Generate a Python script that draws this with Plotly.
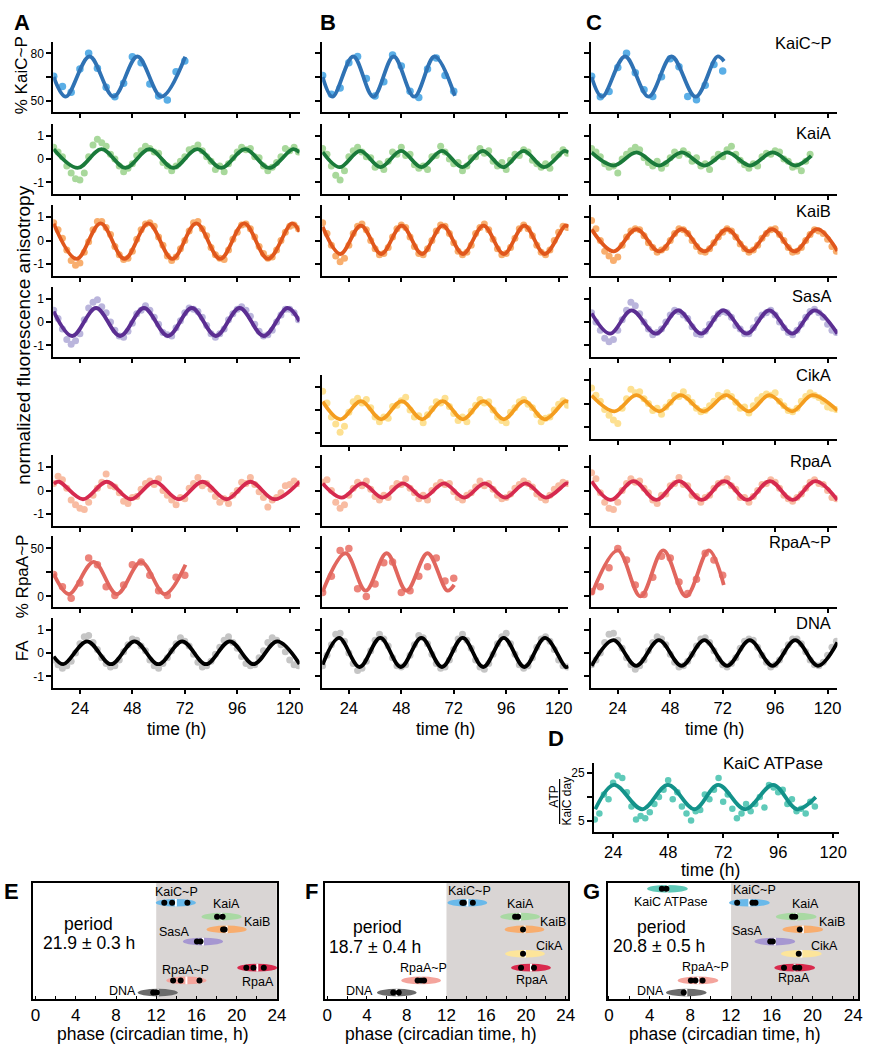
import plotly.graph_objects as go

W, H = 874, 1050
FONT = "Liberation Sans, Arial, Helvetica, sans-serif"
LETTER_FONT = "Liberation Sans Narrow, Arial Narrow, Liberation Sans, sans-serif"

# ======================= DATA =======================
# sampling times (h)
T_FA = [12, 14, 16, 18, 20, 22, 24, 26, 28, 30, 32, 34, 36, 38, 40, 42, 44, 46, 48, 50,
        52, 54, 56, 58, 60, 62, 64, 66, 68, 70, 72, 74, 76, 78, 80, 82, 84, 86, 88, 90,
        92, 94, 96, 98, 100, 102, 104, 106, 108, 110, 112, 114, 116, 118, 120, 122, 124]
T_GEL = [12, 16, 20, 24, 28, 32, 36, 40, 44, 48, 52, 56, 60, 64, 68, 72]
T_ATP = [16, 18, 20, 22, 24, 26, 28, 30, 32, 34, 36, 38, 40, 42, 44, 46, 48, 50, 52, 54,
         56, 58, 60, 62, 64, 66, 68, 70, 72, 74, 76, 78, 80, 82, 84, 86, 88, 90, 92, 94,
         96, 98, 100, 102, 104, 106, 108, 110, 112]

# ---- column A (period 21.9 h) ----
A_KAICP = [65.5, 58.9, 55.3, 70.1, 80, 70.5, 58.5, 52.5, 61, 77.8, 74, 60.6, 53, 50.4, 68.4, 75.1]
A_KAICP_FIT_T = [12, 17.5, 28.4, 39.4, 50.3, 61.3, 72.2]
A_KAICP_FIT_Y = [65, 52.5, 78, 52.5, 78, 52.5, 77.8]

A_KAIA = [0.5, 0.3, 0.1, -0.3, -0.6, -0.85, -0.9, -0.6, 0.1, 0.6, 0.85,
          0.7, 0.55, 0.2, 0.0, -0.3, -0.55, -0.4, -0.2, 0.15, 0.35, 0.55,
          0.45, 0.3, 0.25, -0.15, -0.3, -0.5, -0.3, -0.1, 0.1, 0.4, 0.45,
          0.6, 0.35, 0.1, -0.1, -0.45, -0.3, -0.55, -0.2, 0.05, 0.3, 0.5,
          0.4, 0.45, 0.1, 0.05, -0.3, -0.5, -0.35, -0.15, 0.1, 0.45, 0.35,
          0.5, 0.3]
A_KAIA_FIT_T = [12, 22.95, 33.9, 44.85, 55.8, 66.75, 77.7, 88.65, 99.6, 110.55, 121.5, 124.5]
A_KAIA_FIT_Y = [0.42, -0.38, 0.42, -0.38, 0.42, -0.38, 0.42, -0.38, 0.42, -0.38, 0.42, 0.28]

A_KAIB = [0.75, 0.45, 0.1, -0.4, -0.85, -1.05, -0.95, -0.5, -0.05, 0.45, 0.8,
          0.8, 0.55, 0.25, -0.25, -0.6, -0.8, -0.75, -0.45, 0.05, 0.45, 0.7,
          0.75, 0.6, 0.15, -0.2, -0.65, -0.85, -0.7, -0.35, 0.0, 0.4, 0.75,
          0.8, 0.5, 0.2, -0.3, -0.6, -0.75, -0.8, -0.4, 0.05, 0.35, 0.65,
          0.7, 0.5, 0.15, -0.25, -0.55, -0.75, -0.7, -0.4, 0.0, 0.35, 0.6,
          0.65, 0.5]
A_KAIB_FIT_T = [12, 22.5, 33.45, 44.4, 55.35, 66.3, 77.25, 88.2, 99.15, 110.1, 121.05, 124.5]
A_KAIB_FIT_Y = [0.71, -0.78, 0.72, -0.78, 0.72, -0.78, 0.72, -0.78, 0.72, -0.78, 0.72, 0.38]

A_SASA = [0.5, 0.15, -0.3, -0.75, -0.95, -0.8, -0.5, 0.1, 0.6, 0.85, 0.95,
          0.65, 0.4, 0.0, -0.35, -0.6, -0.65, -0.4, -0.05, 0.35, 0.5, 0.7,
          0.5, 0.2, -0.1, -0.45, -0.55, -0.6, -0.25, 0.05, 0.4, 0.6, 0.55,
          0.45, 0.2, -0.15, -0.5, -0.65, -0.5, -0.3, 0.1, 0.35, 0.55, 0.65,
          0.5, 0.25, -0.1, -0.4, -0.6, -0.55, -0.35, 0.0, 0.3, 0.55, 0.55,
          0.4, 0.1]
A_SASA_FIT_T = [12, 20.5, 31.4, 42.4, 53.3, 64.3, 75.2, 86.2, 97.1, 108.1, 119.0, 124.5]
A_SASA_FIT_Y = [0.45, -0.6, 0.6, -0.6, 0.6, -0.6, 0.6, -0.6, 0.6, -0.6, 0.6, 0.03]

A_RPAA = [0.3, 0.6, 0.45, 0.1, -0.4, -0.6, -0.75, -0.8, -0.5, -0.2, 0.1,
          0.35, 0.7, 0.2, 0.15, -0.1, -0.45, -0.55, -0.3, -0.25, 0.05, 0.3,
          0.4, 0.25, 0.5, 0.0, -0.2, -0.4, -0.6, -0.3, -0.35, 0.1, 0.3,
          0.55, 0.2, 0.3, 0.05, -0.25, -0.5, -0.35, -0.55, -0.2, 0.0, 0.35,
          0.3, 0.55, 0.25, -0.05, -0.3, -0.7, -0.4, -0.3, -0.1, 0.2, 0.25,
          0.4, 0.3]
A_RPAA_FIT_T = [12, 14.4, 25.4, 36.3, 47.3, 58.2, 69.2, 80.1, 91.1, 102.0, 113.0, 124.5]
A_RPAA_FIT_Y = [0.28, 0.37, -0.37, 0.37, -0.37, 0.37, -0.37, 0.37, -0.37, 0.37, -0.37, 0.37]

A_RPAAP = [23, 10, -2, 14, 40, 33, 10, 1, 12, 33, 36, 22, 6, 1, 20, 22]
A_RPAAP_FIT_T = [12, 19.0, 30.3, 40.9, 52.0, 62.8, 72.3]
A_RPAAP_FIT_Y = [23.6, 2.5, 36, 2.5, 36, 2.5, 33]

A_DNA = [-0.3, -0.5, -0.65, -0.55, -0.35, 0.0, 0.4, 0.7, 0.75, 0.45, 0.15,
         -0.2, -0.45, -0.6, -0.55, -0.3, 0.05, 0.35, 0.6, 0.55, 0.3, 0.1,
         -0.3, -0.55, -0.65, -0.45, -0.2, 0.1, 0.4, 0.65, 0.5, 0.3, -0.05,
         -0.4, -0.6, -0.55, -0.35, -0.05, 0.25, 0.55, 0.7, 0.45, 0.2, -0.15,
         -0.45, -0.55, -0.5, -0.2, 0.1, 0.45, 0.65, 0.55, 0.35, 0.05, -0.3,
         -0.5, -0.55]
A_DNA_FIT_T = [12, 16.4, 27.3, 38.2, 49.0, 59.9, 70.8, 81.7, 92.6, 103.5, 114.3, 124.5]
A_DNA_FIT_Y = [-0.15, -0.48, 0.5, -0.48, 0.5, -0.48, 0.5, -0.48, 0.5, -0.48, 0.5, -0.47]

# ---- column B (period 18.7 h) ----
B_KAICP = [66, 54, 58, 74, 78, 64, 53, 62, 79, 72, 56, 52, 70, 77, 66, 56]
B_KAICP_FIT_T = [12, 16.5, 26.0, 35.2, 44.5, 53.9, 63.2, 72.5]
B_KAICP_FIT_Y = [65, 52.5, 78, 52.5, 78, 52.5, 78, 53]

B_KAIA = [0.45, 0.2, -0.3, -0.7, -0.9, -0.5, 0.1, 0.35, 0.5, 0.3,
          0.1, 0.05, -0.35, -0.2, -0.45, -0.1, 0.3, 0.2, 0.5, 0.15,
          0.2, -0.25, -0.4, -0.3, -0.45, 0.1, 0.15, 0.55, 0.3, 0.0,
          -0.2, -0.15, -0.5, -0.3, 0.05, 0.1, 0.45, 0.25, 0.35, -0.1,
          -0.3, -0.15, -0.45, -0.05, 0.2, 0.15, 0.4, 0.3, -0.05, -0.2,
          -0.35, -0.2, -0.4, 0.1, 0.2, 0.4, 0.25]
B_KAIA_FIT_T = [12, 19.8, 29.2, 38.5, 47.9, 57.2, 66.6, 75.9, 85.3, 94.6, 104.0, 113.3, 122.7, 124.5]
B_KAIA_FIT_Y = [0.3, -0.35, 0.35, -0.35, 0.35, -0.35, 0.35, -0.35, 0.35, -0.35, 0.35, -0.35, 0.35, 0.28]

B_KAIB = [0.75, 0.3, -0.2, -0.65, -0.9, -0.75, -0.2, 0.3, 0.6, 0.7,
          0.45, 0.0, -0.35, -0.6, -0.55, -0.3, 0.15, 0.5, 0.65, 0.55,
          0.15, -0.25, -0.55, -0.6, -0.35, 0.0, 0.4, 0.65, 0.6, 0.3,
          -0.1, -0.45, -0.6, -0.5, -0.2, 0.3, 0.55, 0.7, 0.45, 0.05,
          -0.35, -0.6, -0.55, -0.3, 0.1, 0.5, 0.65, 0.5, 0.2, -0.2,
          -0.5, -0.6, -0.4, 0.0, 0.35, 0.6, 0.55]
B_KAIB_FIT_T = [12, 20.1, 29.5, 38.8, 48.2, 57.5, 66.9, 76.2, 85.6, 94.9, 104.3, 113.6, 123.0, 124.5]
B_KAIB_FIT_Y = [0.58, -0.57, 0.63, -0.57, 0.63, -0.57, 0.63, -0.57, 0.63, -0.57, 0.63, -0.57, 0.63, 0.58]

B_CIKA = [0.8, 0.3, -0.3, -0.6, -0.95, -0.7, -0.1, 0.35, 0.5, 0.3,
          0.45, 0.1, -0.3, -0.5, -0.3, -0.35, 0.15, 0.2, 0.4, 0.55,
          0.0, -0.3, -0.25, -0.55, -0.2, 0.05, 0.35, 0.3, 0.5, 0.15,
          -0.15, -0.45, -0.3, -0.5, -0.05, 0.2, 0.45, 0.3, 0.35, 0.0,
          -0.3, -0.45, -0.55, -0.1, 0.1, 0.35, 0.45, 0.25, 0.1, -0.2,
          -0.5, -0.35, -0.3, 0.0, 0.25, 0.4, 0.2]
B_CIKA_FIT_T = [12, 20.1, 29.5, 38.8, 48.2, 57.5, 66.9, 76.2, 85.6, 94.9, 104.3, 113.6, 123.0, 124.5]
B_CIKA_FIT_Y = [0.36, -0.4, 0.38, -0.4, 0.38, -0.4, 0.38, -0.4, 0.38, -0.4, 0.38, -0.4, 0.38, 0.35]

B_RPAA = [0.35, 0.45, 0.0, -0.5, -0.75, -0.6, -0.2, 0.1, 0.35, 0.2,
          0.4, 0.05, -0.25, -0.4, -0.2, -0.3, 0.1, 0.3, 0.25, 0.5,
          0.1, -0.1, -0.35, -0.2, -0.4, 0.0, 0.2, 0.35, 0.25, 0.3,
          -0.05, -0.3, -0.4, -0.2, -0.1, 0.15, 0.4, 0.2, 0.3, 0.05,
          -0.2, -0.35, -0.3, -0.15, 0.1, 0.25, 0.4, 0.3, 0.15, -0.15,
          -0.3, -0.4, -0.2, 0.05, 0.2, 0.35, 0.3]
B_RPAA_FIT_T = [12, 20.7, 30.1, 39.4, 48.8, 58.1, 67.5, 76.8, 86.2, 95.5, 104.9, 114.2, 123.6, 124.5]
B_RPAA_FIT_Y = [0.3, -0.3, 0.3, -0.3, 0.3, -0.3, 0.3, -0.3, 0.3, -0.3, 0.3, -0.3, 0.3, 0.29]

B_RPAAP = [4, 21, 48, 50, 8, 0, 13, 35, 36, 4, 6, 21, 31, 40, 16, 19]
B_RPAAP_FIT_T = [12, 22.5, 31.7, 41.3, 50.4, 60.0, 69.1, 72.2]
B_RPAAP_FIT_Y = [5, 45, 6, 45, 6, 45, 6, 12]

B_DNA = [-0.55, -0.1, 0.35, 0.8, 0.85, 0.5, 0.0, -0.45, -0.75, -0.65,
         -0.35, 0.1, 0.55, 0.8, 0.6, 0.3, -0.2, -0.55, -0.6, -0.5,
         -0.1, 0.35, 0.75, 0.65, 0.4, -0.05, -0.45, -0.65, -0.6, -0.3,
         0.15, 0.6, 0.8, 0.55, 0.2, -0.3, -0.6, -0.7, -0.45, -0.05,
         0.4, 0.7, 0.85, 0.4, -0.05, -0.5, -0.65, -0.55, -0.2, 0.25,
         0.6, 0.7, 0.5, 0.15, -0.3, -0.55, -0.6]
B_DNA_FIT_T = [12, 19.5, 28.9, 38.4, 47.8, 57.2, 66.6, 76.1, 85.5, 94.9, 104.3, 113.8, 123.2, 124.5]
B_DNA_FIT_Y = [-0.5, 0.65, -0.6, 0.65, -0.6, 0.65, -0.6, 0.65, -0.6, 0.65, -0.6, 0.65, -0.6, -0.57]

# ---- column C (period 20.8 h) ----
C_KAICP = [65.5, 52.5, 55.8, 71, 80, 67.7, 56.9, 52.6, 65.2, 76.5, 71.5, 52.6, 50.5, 59.8, 73, 68.8]
C_KAICP_FIT_T = [12, 16.8, 27.3, 38.1, 48.6, 59.6, 69.6, 72.6]
C_KAICP_FIT_Y = [65, 52.5, 78, 52.5, 78, 52.5, 78, 75]

C_KAIA = [0.45, 0.3, 0.1, -0.2, -0.35, -0.3, -0.6, 0.0, 0.2, 0.35,
          0.5, 0.4, 0.05, -0.15, -0.3, -0.1, -0.4, -0.2, 0.05, 0.3,
          0.15, 0.35, 0.2, -0.1, 0.05, -0.3, -0.2, -0.45, 0.0, 0.2,
          0.1, 0.4, 0.55, 0.2, -0.05, -0.25, -0.4, -0.2, -0.3, 0.1,
          0.25, 0.2, 0.35, 0.3, 0.0, -0.1, -0.35, -0.3, -0.5, -0.1,
          0.2]
C_KAIA_FIT_T = [12, 22.1, 32.5, 42.9, 53.3, 63.7, 74.1, 84.5, 94.9, 105.3, 112.5]
C_KAIA_FIT_Y = [0.28, -0.28, 0.28, -0.28, 0.28, -0.28, 0.28, -0.28, 0.28, -0.28, 0.13]

C_KAIB = [0.85, 0.5, 0.0, -0.45, -0.65, -0.85, -0.7, -0.2, 0.15, 0.4,
          0.5, 0.45, 0.2, -0.1, -0.3, -0.5, -0.4, -0.3, 0.0, 0.3,
          0.5, 0.45, 0.3, 0.0, -0.25, -0.45, -0.5, -0.35, -0.1, 0.15,
          0.35, 0.5, 0.4, 0.15, -0.15, -0.35, -0.5, -0.4, -0.2, 0.1,
          0.3, 0.45, 0.5, 0.25, 0.0, -0.3, -0.5, -0.45, -0.3, 0.0,
          0.25, 0.45, 0.4, 0.3, 0.05, -0.25, -0.45]
C_KAIB_FIT_T = [12, 22.1, 32.5, 42.9, 53.2, 63.6, 74.0, 84.3, 94.6, 104.9, 115.2, 124.5]
C_KAIB_FIT_Y = [0.47, -0.46, 0.48, -0.46, 0.48, -0.46, 0.48, -0.46, 0.48, -0.46, 0.48, -0.44]

C_SASA = [0.4, 0.0, -0.35, -0.7, -0.85, -0.75, -0.35, 0.1, 0.5, 0.85,
          0.7, 0.35, 0.0, -0.3, -0.55, -0.45, -0.3, 0.0, 0.3, 0.5,
          0.45, 0.3, 0.15, -0.2, -0.5, -0.55, -0.4, -0.1, 0.15, 0.35,
          0.45, 0.4, 0.2, -0.15, -0.3, -0.5, -0.5, -0.25, 0.1, 0.3,
          0.4, 0.5, 0.3, 0.0, -0.25, -0.45, -0.55, -0.35, -0.1, 0.2,
          0.45, 0.55, 0.4, 0.2, -0.1, -0.35, -0.45]
C_SASA_FIT_T = [12, 20.5, 30.3, 41.4, 51.6, 62.2, 72.3, 83.0, 93.3, 103.8, 114.0, 124.5]
C_SASA_FIT_Y = [0.37, -0.5, 0.5, -0.5, 0.5, -0.5, 0.5, -0.5, 0.5, -0.5, 0.5, -0.5]

C_CIKA = [0.65, 0.35, 0.1, -0.25, -0.5, -0.7, -0.85, -0.2, 0.2, 0.6,
          0.45, 0.5, 0.2, 0.0, -0.3, -0.2, -0.45, -0.15, 0.05, 0.35,
          0.3, 0.5, 0.25, 0.05, -0.2, -0.35, -0.3, -0.1, 0.1, 0.35,
          0.3, 0.45, 0.3, 0.05, -0.2, -0.15, -0.4, -0.1, 0.15, 0.3,
          0.4, 0.35, 0.45, 0.1, -0.1, -0.3, -0.35, -0.2, 0.1, 0.3,
          0.45, 0.35, 0.25, 0.1, -0.15, -0.2, -0.25]
C_CIKA_FIT_T = [12, 22.5, 32.5, 43.0, 52.8, 63.3, 73.6, 84.0, 93.3, 103.8, 113.0, 124.5]
C_CIKA_FIT_Y = [0.34, -0.33, 0.35, -0.33, 0.35, -0.33, 0.35, -0.33, 0.35, -0.33, 0.35, -0.3]

C_RPAA = [0.75, 0.5, -0.1, -0.5, -0.75, -0.8, -0.5, 0.0, 0.3, 0.5,
          0.35, 0.4, 0.1, -0.1, -0.4, -0.55, -0.2, -0.15, 0.2, 0.3,
          0.55, 0.25, 0.2, -0.2, -0.25, -0.5, -0.3, -0.2, 0.1, 0.3,
          0.35, 0.5, 0.2, 0.05, -0.3, -0.3, -0.5, -0.25, 0.0, 0.25,
          0.3, 0.45, 0.35, 0.1, -0.2, -0.35, -0.45, -0.3, -0.15, 0.1,
          0.35, 0.45, 0.3, 0.25, 0.0, -0.3, -0.35]
C_RPAA_FIT_T = [12, 20.8, 31.2, 41.6, 52.0, 62.4, 72.8, 83.2, 93.6, 104.0, 114.4, 124.5]
C_RPAA_FIT_Y = [0.39, -0.4, 0.4, -0.4, 0.4, -0.4, 0.4, -0.4, 0.4, -0.4, 0.4, -0.4]

C_RPAAP = [5, 10, 30, 50, 38, 12, 2, 20, 42, 40, 15, 3, 18, 45, 38, 22]
C_RPAAP_FIT_T = [12, 24.0, 34.4, 44.8, 55.2, 65.6, 72.5]
C_RPAAP_FIT_Y = [2, 48, 0, 48, 0, 48, 12]

C_DNA = [-0.5, -0.3, 0.0, 0.45, 0.8, 0.85, 0.55, 0.2, -0.2, -0.5,
         -0.7, -0.55, -0.3, 0.1, 0.45, 0.7, 0.6, 0.35, -0.05, -0.4,
         -0.6, -0.55, -0.35, -0.05, 0.3, 0.6, 0.65, 0.45, 0.1, -0.25,
         -0.5, -0.6, -0.45, -0.2, 0.2, 0.5, 0.6, 0.55, 0.25, -0.1,
         -0.4, -0.6, -0.5, -0.3, 0.05, 0.35, 0.6, 0.6, 0.4, 0.05,
         -0.3, -0.5, -0.55, -0.4, -0.1, 0.25, 0.5]
C_DNA_FIT_T = [12, 22.0, 32.4, 42.8, 53.2, 63.6, 74.0, 84.4, 94.8, 105.2, 115.6, 124.5]
C_DNA_FIT_Y = [-0.55, 0.55, -0.55, 0.55, -0.55, 0.55, -0.55, 0.55, -0.55, 0.55, -0.55, 0.45]

# ---- D: KaiC ATPase ----
D_ATP = [5.5, 8, 16, 14, 21, 24, 23, 17, 11, 5.5,
         7, 6, 8.5, 12, 15, 18, 22, 14, 17, 11,
         8, 5, 9, 9.5, 16, 14, 18, 23, 13, 16,
         10, 6, 8, 12, 9, 12, 15, 10.5, 20, 19,
         17, 18, 12, 14, 9, 10, 8, 13, 11]
D_ATP_FIT_T = [16.2, 24.4, 36.7, 47.9, 59.5, 69.8, 81.5, 93.8, 104.2, 112.4]
D_ATP_FIT_Y = [9.8, 20.1, 9.8, 20.1, 9.8, 20.1, 9.8, 20.1, 9.8, 14.9]

# ---- E/F/G: phases (circadian time, h) ----
E_SPECIES = ["KaiC~P", "KaiA", "KaiB", "SasA", "RpaA~P", "RpaA", "DNA"]
E_MEAN = [13.95, 18.5, 19.0, 16.65, 15.0, 22.05, 12.15]
E_REPS = [[12.8, 13.58, 15.1], [18.05, 18.6], [18.65, 18.8], [16.05, 16.4],
          [13.68, 14.43, 16.3], [20.96, 21.67, 22.7], [11.7, 12.05]]
E_PERIOD = "21.9 ± 0.3 h"

F_SPECIES = ["KaiC~P", "KaiA", "KaiB", "CikA", "RpaA", "RpaA~P", "DNA"]
F_MEAN = [14.1, 19.4, 19.85, 19.9, 20.5, 9.45, 7.0]
F_REPS = [[13.6, 13.75, 14.65], [18.9, 19.2], [19.7], [19.7], [19.5, 20.8],
          [9.1, 9.45, 9.75], [6.65, 7.2]]
F_PERIOD = "18.7 ± 0.4 h"

G_SPECIES = ["KaiC ATPase", "KaiC~P", "KaiA", "KaiB", "SasA", "CikA", "RpaA", "RpaA~P", "DNA"]
G_MEAN = [5.75, 13.8, 18.4, 19.05, 16.3, 18.9, 18.25, 8.75, 7.6]
G_REPS = [[5.2, 5.65], [12.6, 14.1, 14.4], [18.0, 18.3], [18.75], [15.85, 16.1],
          [18.65], [17.2, 18.3, 18.7], [8.05, 8.5, 9.2], [7.35]]
G_PERIOD = "20.8 ± 0.5 h"

TIME_TICKS = [24, 48, 72, 96, 120]

# ======================= STYLE / LAYOUT =======================
STYLE = {
    "KaiC~P": dict(dot="#5aaee6", line="#2f72b4", ell="#69b9ea"),
    "KaiA": dict(dot="#a8d89b", line="#1a7a3a", ell="#a9d9a3"),
    "KaiB": dict(dot="#f8ae6e", line="#e0571c", ell="#f8ad6e"),
    "SasA": dict(dot="#bab5dc", line="#5b2e92", ell="#a697d1"),
    "CikA": dict(dot="#fde091", line="#f49d1f", ell="#fde59a"),
    "RpaA": dict(dot="#f8bca2", line="#d62a4f", ell="#d92a4d"),
    "RpaA~P": dict(dot="#ec847b", line="#e1665e", ell="#f4a49c"),
    "DNA": dict(dot="#c5c5c5", line="#000000", ell="#6b6b6b"),
    "KaiC ATPase": dict(dot="#5fcab9", line="#13928a", ell="#5fc8b7"),
}

COL_PX = {"A": (50, 300), "B": (323, 573), "C": (596, 846)}
ROW_PX = {"KaiC~P": (42, 112), "KaiA": (124, 194), "KaiB": (205, 276), "SasA": (287, 357),
          "CikA": (370, 441), "RpaA": (455, 526), "RpaA~P": (536, 607), "DNA": (618, 688)}
ROW_PX_OVERRIDE = {("B", "CikA"): (375, 445), ("C", "CikA"): (368, 439)}
TIME_RANGE = [11.8, 124.5]

Y_SPEC = {
    "KaiC~P": dict(range=[42.8, 87.2], tickvals=[50, 65, 80], ticktext=["50", "", "80"]),
    "RpaA~P": dict(range=[-11, 63], tickvals=[0, 25, 50], ticktext=["0", "", "50"]),
    "FA": dict(range=[-1.5, 1.5], tickvals=[-1, 0, 1], ticktext=["-1", "0", "1"]),
}

ROW_LEVEL = {"KaiC ATPase": 9.5, "KaiC~P": 8.3, "KaiA": 7.1, "KaiB": 6.0, "SasA": 4.95,
             "CikA": 3.9, "RpaA": 2.7, "RpaA~P": 1.6, "DNA": 0.55}
ELL_HALF_W = 2.0
ELL_HALF_H = 0.33

E_LABEL_POS = {"KaiC~P": (14.0, 9.22), "KaiA": (19.0, 8.19), "KaiB": (22.0, 6.6), "SasA": (13.8, 5.78),
               "RpaA~P": (14.9, 2.5), "RpaA": (22.1, 1.5), "DNA": (8.6, 0.73)}
F_LABEL_POS = {"KaiC~P": (14.3, 9.27), "KaiA": (19.4, 8.15), "KaiB": (22.7, 6.64), "CikA": (22.4, 4.53),
               "RpaA": (20.6, 1.68), "RpaA~P": (9.7, 2.67), "DNA": (3.3, 0.73)}
G_LABEL_POS = {"KaiC ATPase": (6.05, 8.36), "KaiC~P": (14.3, 9.4), "KaiA": (19.3, 8.23), "KaiB": (21.9, 6.68),
               "SasA": (13.6, 5.82), "CikA": (21.2, 4.61), "RpaA": (18.2, 1.81), "RpaA~P": (9.5, 2.76),
               "DNA": (4.1, 0.65)}

fig = go.Figure()
axes_layout = {}
shapes = []
annotations = []
counter = [0]


def px2x(p):
    return p / W


def px2y(p):
    return 1 - p / H


def new_axes(x0, x1, y0, y1, xcfg, ycfg):
    counter[0] += 1
    n = counter[0]
    s = "" if n == 1 else str(n)
    axes_layout["xaxis" + s] = dict(xcfg, domain=[px2x(x0), px2x(x1)], anchor="y" + s)
    axes_layout["yaxis" + s] = dict(ycfg, domain=[px2y(y1), px2y(y0)], anchor="x" + s)
    return "x" + s, "y" + s


def line_axis(**kw):
    base = dict(showline=True, linecolor="black", linewidth=2, ticks="outside", ticklen=5,
                tickwidth=1.5, tickcolor="black", showgrid=False, zeroline=False,
                tickfont=dict(size=12, color="black", family=FONT))
    base.update(kw)
    return base


def text(x, y, s, size, **kw):
    d = dict(x=x, y=y, text=s, showarrow=False, font=dict(size=size, color="black", family=FONT),
             xref="paper", yref="paper", xanchor="center", yanchor="middle")
    d.update(kw)
    annotations.append(d)


TS_PANELS = [
    ("A", "KaiC~P", T_GEL, A_KAICP, A_KAICP_FIT_T, A_KAICP_FIT_Y),
    ("A", "KaiA", T_FA, A_KAIA, A_KAIA_FIT_T, A_KAIA_FIT_Y),
    ("A", "KaiB", T_FA, A_KAIB, A_KAIB_FIT_T, A_KAIB_FIT_Y),
    ("A", "SasA", T_FA, A_SASA, A_SASA_FIT_T, A_SASA_FIT_Y),
    ("A", "RpaA", T_FA, A_RPAA, A_RPAA_FIT_T, A_RPAA_FIT_Y),
    ("A", "RpaA~P", T_GEL, A_RPAAP, A_RPAAP_FIT_T, A_RPAAP_FIT_Y),
    ("A", "DNA", T_FA, A_DNA, A_DNA_FIT_T, A_DNA_FIT_Y),
    ("B", "KaiC~P", T_GEL, B_KAICP, B_KAICP_FIT_T, B_KAICP_FIT_Y),
    ("B", "KaiA", T_FA, B_KAIA, B_KAIA_FIT_T, B_KAIA_FIT_Y),
    ("B", "KaiB", T_FA, B_KAIB, B_KAIB_FIT_T, B_KAIB_FIT_Y),
    ("B", "CikA", T_FA, B_CIKA, B_CIKA_FIT_T, B_CIKA_FIT_Y),
    ("B", "RpaA", T_FA, B_RPAA, B_RPAA_FIT_T, B_RPAA_FIT_Y),
    ("B", "RpaA~P", T_GEL, B_RPAAP, B_RPAAP_FIT_T, B_RPAAP_FIT_Y),
    ("B", "DNA", T_FA, B_DNA, B_DNA_FIT_T, B_DNA_FIT_Y),
    ("C", "KaiC~P", T_GEL, C_KAICP, C_KAICP_FIT_T, C_KAICP_FIT_Y),
    ("C", "KaiA", T_FA, C_KAIA, C_KAIA_FIT_T, C_KAIA_FIT_Y),
    ("C", "KaiB", T_FA, C_KAIB, C_KAIB_FIT_T, C_KAIB_FIT_Y),
    ("C", "SasA", T_FA, C_SASA, C_SASA_FIT_T, C_SASA_FIT_Y),
    ("C", "CikA", T_FA, C_CIKA, C_CIKA_FIT_T, C_CIKA_FIT_Y),
    ("C", "RpaA", T_FA, C_RPAA, C_RPAA_FIT_T, C_RPAA_FIT_Y),
    ("C", "RpaA~P", T_GEL, C_RPAAP, C_RPAAP_FIT_T, C_RPAAP_FIT_Y),
    ("C", "DNA", T_FA, C_DNA, C_DNA_FIT_T, C_DNA_FIT_Y),
]

for col, sp, tx, ty, fx, fy in TS_PANELS:
    x0, x1 = COL_PX[col]
    y0, y1 = ROW_PX_OVERRIDE.get((col, sp), ROW_PX[sp])
    yspec = Y_SPEC.get(sp, Y_SPEC["FA"])
    xcfg = line_axis(range=TIME_RANGE, tickvals=TIME_TICKS, showticklabels=(sp == "DNA"),
                     ticklen=4, tickfont=dict(size=16.5, color="black", family=FONT))
    ycfg = line_axis(range=yspec["range"], tickvals=yspec["tickvals"], ticktext=yspec["ticktext"],
                     showticklabels=(col == "A"))
    xr, yr = new_axes(x0, x1, y0, y1, xcfg, ycfg)
    st = STYLE[sp]
    msize = 7.5 if sp in ("KaiC~P", "RpaA~P") else 7
    fig.add_trace(go.Scatter(x=tx[:len(ty)], y=ty, xaxis=xr, yaxis=yr, mode="markers",
                             marker=dict(size=msize, color=st["dot"], line=dict(width=0)),
                             hoverinfo="skip"))
    fig.add_trace(go.Scatter(x=fx, y=fy, xaxis=xr, yaxis=yr, mode="lines",
                             line=dict(color=st["line"], width=3.8, shape="spline", smoothing=1.0),
                             hoverinfo="skip"))

# ---- D panel ----
xr, yr = new_axes(599, 848, 763, 832,
                  line_axis(range=[15.7, 122.7], tickvals=TIME_TICKS, ticklen=4,
                            tickfont=dict(size=16.5, color="black", family=FONT)),
                  line_axis(range=[0.2, 29.3], tickvals=[5, 15, 25], ticktext=["5", "", "25"]))
st = STYLE["KaiC ATPase"]
fig.add_trace(go.Scatter(x=T_ATP[:len(D_ATP)], y=D_ATP, xaxis=xr, yaxis=yr, mode="markers",
                         marker=dict(size=6.5, color=st["dot"], line=dict(width=0)), hoverinfo="skip"))
fig.add_trace(go.Scatter(x=D_ATP_FIT_T, y=D_ATP_FIT_Y, xaxis=xr, yaxis=yr, mode="lines",
                         line=dict(color=st["line"], width=3.8, shape="spline", smoothing=1.0),
                         hoverinfo="skip"))

# ---- phase panels ----
PHASE_PANELS = [
    ((29, 277), [-0.3, 24.0], E_SPECIES, E_MEAN, E_REPS, E_LABEL_POS, E_PERIOD, (5.3, 6.5), (5.3, 4.8)),
    ((326, 573), [-0.2, 24.27], F_SPECIES, F_MEAN, F_REPS, F_LABEL_POS, F_PERIOD, (5.1, 6.2), (4.8, 4.5)),
    ((613, 867), [-0.1, 24.48], G_SPECIES, G_MEAN, G_REPS, G_LABEL_POS, G_PERIOD, (5.2, 6.2), (4.9, 4.6)),
]
PHASE_TICKS = list(range(0, 25, 2))
for (px0, px1), xrange_, species, means, reps, labpos, period, ppos1, ppos2 in PHASE_PANELS:
    xcfg = dict(range=xrange_, showline=True, mirror=True, linecolor="black", linewidth=2,
                ticks="inside", ticklen=3, tickwidth=1, tickcolor="black", tickvals=PHASE_TICKS,
                ticktext=[str(v) if v % 4 == 0 else "" for v in PHASE_TICKS],
                tickfont=dict(size=17, color="black", family=FONT), showgrid=False, zeroline=False)
    ycfg = dict(range=[0, 10], showline=True, mirror=True, linecolor="black", linewidth=2,
                ticks="", showticklabels=False, showgrid=False, zeroline=False)
    xr, yr = new_axes(px0, px1, 883, 999, xcfg, ycfg)
    shapes.append(dict(type="rect", xref=xr, yref=yr + " domain", x0=12, x1=xrange_[1], y0=0, y1=1,
                       fillcolor="#d9d5d4", line=dict(width=0), layer="below"))
    dx, dy = [], []
    for sp, m, rp in zip(species, means, reps):
        lvl = ROW_LEVEL[sp]
        shapes.append(dict(type="circle", xref=xr, yref=yr, x0=m - ELL_HALF_W, x1=m + ELL_HALF_W,
                           y0=lvl - ELL_HALF_H, y1=lvl + ELL_HALF_H, fillcolor=STYLE[sp]["ell"],
                           line=dict(width=0), layer="below"))
        shapes.append(dict(type="line", xref=xr, yref=yr, x0=m, x1=m, y0=lvl - ELL_HALF_H,
                           y1=lvl + ELL_HALF_H, line=dict(color="white", width=2), layer="below"))
        dx += rp
        dy += [lvl] * len(rp)
        lx, ly = labpos[sp]
        annotations.append(dict(x=lx, y=ly, xref=xr, yref=yr, text=sp, showarrow=False,
                                font=dict(size=12.5, color="black", family=FONT),
                                xanchor="center", yanchor="middle"))
    fig.add_trace(go.Scatter(x=dx, y=dy, xaxis=xr, yaxis=yr, mode="markers",
                             marker=dict(size=6, color="black"), hoverinfo="skip"))
    annotations.append(dict(x=ppos1[0], y=ppos1[1], xref=xr, yref=yr, text="period", showarrow=False,
                            font=dict(size=17.5, color="black", family=FONT)))
    annotations.append(dict(x=ppos2[0], y=ppos2[1], xref=xr, yref=yr, text=period, showarrow=False,
                            font=dict(size=17.5, color="black", family=FONT)))

# ---- text annotations (paper) ----
for letter, (lx, ly) in {"A": (18.5, 22.5), "B": (329, 22.5), "C": (599, 22.5), "D": (560, 738),
                         "E": (8, 891), "F": (312, 891), "G": (596, 891)}.items():
    text(px2x(lx), px2y(ly), "<b>" + letter + "</b>", 22, font=dict(size=22, color="black", family=LETTER_FONT))

for lab, ly in [("KaiC~P", 43), ("KaiA", 133), ("KaiB", 211), ("SasA", 296), ("CikA", 375),
                ("RpaA", 461), ("RpaA~P", 542), ("DNA", 623)]:
    text(px2x(842), px2y(ly), lab, 16.5, xanchor="right")
text(px2x(833), px2y(763), "KaiC ATPase", 17, xanchor="right")

text(px2x(18.5), px2y(75), "% KaiC~P", 17, textangle=-90)
text(px2x(19), px2y(335), "normalized fluorescence anisotropy", 19, textangle=-90)
text(px2x(18.5), px2y(576), "% RpaA~P", 17, textangle=-90)
text(px2x(18.5), px2y(651), "FA", 17, textangle=-90)

for cx in (175, 448, 721):
    text(px2x(cx), px2y(729), "time (h)", 17.5)
text(px2x(717), px2y(870), "time (h)", 17.5)

for cx in (151.7, 443.5, 731.5):
    text(px2x(cx), px2y(1034), "phase (circadian time, h)", 17.5)

# D y-axis fraction label
text(px2x(558), px2y(797), "ATP", 12, textangle=-90)
text(px2x(571), px2y(801), "KaiC day", 12, textangle=-90)
shapes.append(dict(type="line", xref="paper", yref="paper", x0=px2x(564), x1=px2x(564),
                   y0=px2y(824), y1=px2y(779), line=dict(color="black", width=1.2)))

fig.update_layout(**axes_layout)
fig.update_layout(width=W, height=H, margin=dict(l=0, r=0, t=0, b=0),
                  paper_bgcolor="white", plot_bgcolor="white", showlegend=False,
                  font=dict(family=FONT, color="black"),
                  shapes=shapes, annotations=annotations)

fig.write_html("out.html", config={"displayModeBar": False},
               post_script="document.body.style.margin='0px';")
